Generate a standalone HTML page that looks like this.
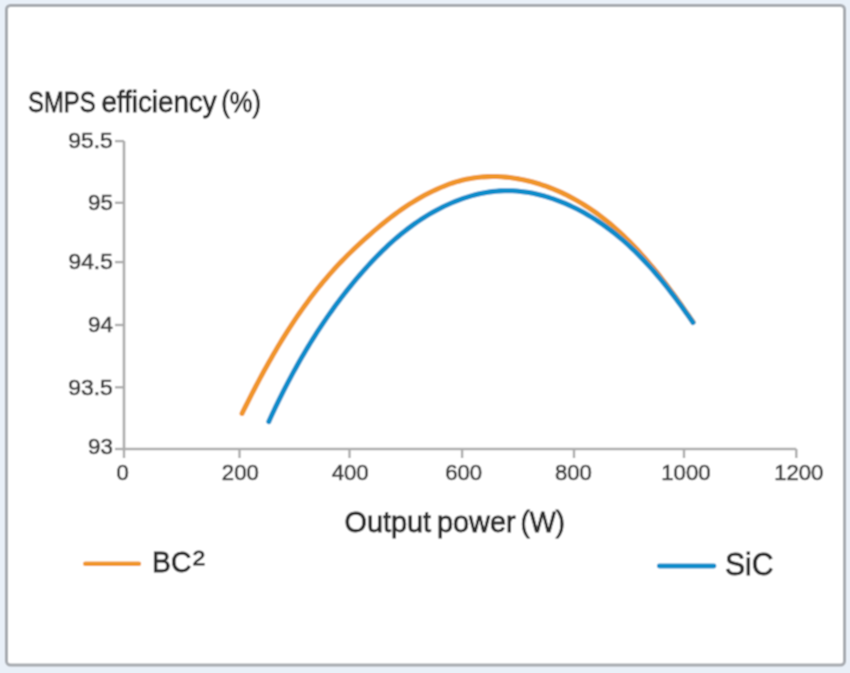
<!DOCTYPE html>
<html><head><meta charset="utf-8"><style>
html,body{margin:0;padding:0;background:#e9f0f8;width:850px;height:673px;overflow:hidden}
svg{display:block}
text{font-family:"Liberation Sans", sans-serif;fill:#2b2b2b;stroke:#2b2b2b;stroke-width:0.8px}
text.tk{fill:#3f3f3f;stroke:#3f3f3f;stroke-width:0.6px}
</style></head><body>
<svg width="850" height="673" viewBox="0 0 850 673">
<defs><filter id="bl" x="-5%" y="-5%" width="110%" height="110%"><feConvolveMatrix order="3" kernelMatrix="1 2 1 2 4 2 1 2 1" divisor="16" edgeMode="none" preserveAlpha="false"/></filter></defs>
<rect width="850" height="673" fill="#e9f0f8"/>
<g filter="url(#bl)">
<rect x="6.5" y="5.5" width="838" height="659.6" rx="4" ry="4" fill="#ffffff" stroke="#a7abb0" stroke-width="3"/>
<path d="M124,141.1 L124,449 L796.3,449" fill="none" stroke="#acacac" stroke-width="2.6"/>
<line x1="124" y1="449" x2="124" y2="458" stroke="#acacac" stroke-width="2.4"/>
<text class="tk" x="122.7" y="480" text-anchor="middle" textLength="12.3" lengthAdjust="spacingAndGlyphs" font-size="21.5">0</text>
<line x1="239.5" y1="449" x2="239.5" y2="458" stroke="#acacac" stroke-width="2.4"/>
<text class="tk" x="240.3" y="480" text-anchor="middle" textLength="36.9" lengthAdjust="spacingAndGlyphs" font-size="21.5">200</text>
<line x1="349.5" y1="449" x2="349.5" y2="458" stroke="#acacac" stroke-width="2.4"/>
<text class="tk" x="350.1" y="480" text-anchor="middle" textLength="36.9" lengthAdjust="spacingAndGlyphs" font-size="21.5">400</text>
<line x1="462.1" y1="449" x2="462.1" y2="458" stroke="#acacac" stroke-width="2.4"/>
<text class="tk" x="463.6" y="480" text-anchor="middle" textLength="36.9" lengthAdjust="spacingAndGlyphs" font-size="21.5">600</text>
<line x1="574" y1="449" x2="574" y2="458" stroke="#acacac" stroke-width="2.4"/>
<text class="tk" x="573.4" y="480" text-anchor="middle" textLength="36.9" lengthAdjust="spacingAndGlyphs" font-size="21.5">800</text>
<line x1="684" y1="449" x2="684" y2="458" stroke="#acacac" stroke-width="2.4"/>
<text class="tk" x="685.9" y="480" text-anchor="middle" textLength="49.2" lengthAdjust="spacingAndGlyphs" font-size="21.5">1000</text>
<line x1="796.3" y1="449" x2="796.3" y2="458" stroke="#acacac" stroke-width="2.4"/>
<text class="tk" x="798.8" y="480" text-anchor="middle" textLength="49.2" lengthAdjust="spacingAndGlyphs" font-size="21.5">1200</text>
<line x1="115" y1="141.1" x2="124" y2="141.1" stroke="#acacac" stroke-width="2.4"/>
<text class="tk" x="112.8" y="148.3" text-anchor="end" textLength="44.5" lengthAdjust="spacingAndGlyphs" font-size="21.5">95.5</text>
<line x1="115" y1="202.8" x2="124" y2="202.8" stroke="#acacac" stroke-width="2.4"/>
<text class="tk" x="112.8" y="210.0" text-anchor="end" textLength="24.8" lengthAdjust="spacingAndGlyphs" font-size="21.5">95</text>
<line x1="115" y1="262.1" x2="124" y2="262.1" stroke="#acacac" stroke-width="2.4"/>
<text class="tk" x="112.8" y="269.3" text-anchor="end" textLength="44.3" lengthAdjust="spacingAndGlyphs" font-size="21.5">94.5</text>
<line x1="115" y1="325" x2="124" y2="325" stroke="#acacac" stroke-width="2.4"/>
<text class="tk" x="112.8" y="332.2" text-anchor="end" textLength="24.8" lengthAdjust="spacingAndGlyphs" font-size="21.5">94</text>
<line x1="115" y1="387.3" x2="124" y2="387.3" stroke="#acacac" stroke-width="2.4"/>
<text class="tk" x="112.8" y="394.5" text-anchor="end" textLength="44.5" lengthAdjust="spacingAndGlyphs" font-size="21.5">93.5</text>
<line x1="115" y1="449" x2="124" y2="449" stroke="#acacac" stroke-width="2.4"/>
<text class="tk" x="112.8" y="453.7" text-anchor="end" textLength="24.8" lengthAdjust="spacingAndGlyphs" font-size="21.5">93</text>
<g>
<path d="M242.09,413.39 L244.04,409.44 L246.01,405.49 L247.99,401.55 L249.99,397.60 L252.01,393.65 L254.04,389.71 L256.10,385.77 L258.17,381.83 L260.27,377.90 L262.38,373.98 L264.52,370.07 L266.68,366.17 L268.86,362.27 L271.07,358.39 L273.30,354.52 L275.55,350.66 L277.83,346.81 L280.13,342.99 L282.46,339.17 L284.82,335.38 L287.20,331.60 L289.61,327.84 L292.05,324.10 L294.52,320.38 L297.02,316.69 L299.55,313.01 L302.11,309.37 L304.70,305.74 L307.32,302.14 L309.98,298.57 L312.66,295.03 L315.39,291.52 L318.14,288.03 L320.93,284.58 L323.76,281.16 L326.62,277.78 L329.52,274.42 L332.46,271.10 L335.43,267.82 L338.45,264.58 L341.50,261.37 L344.59,258.20 L347.72,255.07 L350.88,251.98 L354.08,248.92 L357.30,245.89 L360.55,242.90 L363.83,239.93 L367.12,236.99 L370.44,234.08 L373.77,231.19 L377.13,228.33 L380.51,225.51 L383.92,222.72 L387.37,219.97 L390.86,217.26 L394.40,214.59 L397.98,211.98 L401.62,209.41 L405.30,206.91 L409.04,204.46 L412.83,202.08 L416.67,199.76 L420.56,197.52 L424.49,195.35 L428.48,193.26 L432.51,191.25 L436.60,189.33 L440.72,187.51 L444.89,185.80 L449.10,184.20 L453.34,182.74 L457.62,181.42 L461.91,180.25 L466.23,179.25 L470.57,178.41 L474.92,177.73 L479.29,177.20 L483.67,176.83 L488.05,176.60 L492.44,176.51 L496.84,176.57 L501.23,176.77 L505.62,177.10 L510.00,177.57 L514.38,178.17 L518.74,178.89 L523.09,179.74 L527.42,180.71 L531.74,181.79 L536.02,182.99 L540.29,184.30 L544.52,185.72 L548.73,187.25 L552.90,188.87 L557.03,190.60 L561.12,192.42 L565.18,194.34 L569.18,196.35 L573.14,198.44 L577.05,200.62 L580.90,202.88 L584.70,205.21 L588.45,207.62 L592.14,210.11 L595.78,212.66 L599.36,215.29 L602.90,217.98 L606.39,220.74 L609.83,223.55 L613.22,226.43 L616.56,229.37 L619.86,232.36 L623.11,235.40 L626.33,238.49 L629.49,241.64 L632.62,244.82 L635.71,248.05 L638.76,251.33 L641.76,254.64 L644.74,257.99 L647.67,261.37 L650.57,264.79 L653.44,268.23 L656.27,271.71 L659.07,275.21 L661.84,278.73 L664.58,282.27 L667.29,285.83 L669.97,289.41 L672.62,293.00 L675.25,296.60 L677.85,300.22 L680.43,303.84 L682.98,307.46 L685.52,311.09 L688.03,314.72 L690.52,318.34 L692.99,321.96" fill="none" stroke="#f0952c" stroke-width="5.1" stroke-linecap="round" stroke-linejoin="round"/>
<path d="M268.80,421.60 L270.53,417.81 L272.28,414.01 L274.06,410.23 L275.86,406.44 L277.69,402.66 L279.53,398.88 L281.41,395.11 L283.30,391.34 L285.22,387.58 L287.17,383.83 L289.13,380.09 L291.13,376.36 L293.14,372.63 L295.18,368.92 L297.25,365.21 L299.34,361.52 L301.46,357.84 L303.59,354.17 L305.76,350.52 L307.95,346.88 L310.16,343.26 L312.40,339.65 L314.66,336.06 L316.95,332.48 L319.27,328.92 L321.61,325.39 L323.97,321.87 L326.36,318.37 L328.78,314.89 L331.22,311.43 L333.68,307.99 L336.18,304.58 L338.69,301.19 L341.24,297.83 L343.81,294.48 L346.40,291.17 L349.02,287.88 L351.67,284.61 L354.34,281.38 L357.04,278.17 L359.77,274.99 L362.52,271.84 L365.30,268.72 L368.11,265.63 L370.94,262.58 L373.80,259.55 L376.69,256.56 L379.60,253.60 L382.56,250.69 L385.54,247.81 L388.57,244.97 L391.64,242.17 L394.74,239.42 L397.90,236.71 L401.10,234.04 L404.35,231.43 L407.65,228.87 L411.00,226.36 L414.41,223.90 L417.88,221.50 L421.41,219.15 L424.99,216.87 L428.63,214.65 L432.31,212.51 L436.04,210.44 L439.82,208.45 L443.64,206.54 L447.50,204.72 L451.39,202.99 L455.32,201.36 L459.28,199.82 L463.27,198.39 L467.28,197.07 L471.32,195.86 L475.38,194.77 L479.46,193.79 L483.56,192.94 L487.66,192.22 L491.78,191.64 L495.91,191.19 L500.04,190.88 L504.17,190.71 L508.31,190.69 L512.44,190.81 L516.57,191.06 L520.69,191.44 L524.81,191.95 L528.91,192.59 L533.00,193.35 L537.08,194.23 L541.15,195.23 L545.19,196.33 L549.21,197.55 L553.21,198.87 L557.19,200.29 L561.14,201.81 L565.06,203.43 L568.95,205.14 L572.81,206.94 L576.63,208.83 L580.41,210.79 L584.16,212.84 L587.86,214.96 L591.52,217.15 L595.13,219.41 L598.70,221.74 L602.22,224.13 L605.68,226.58 L609.09,229.09 L612.45,231.65 L615.75,234.26 L619.01,236.92 L622.22,239.63 L625.38,242.39 L628.49,245.20 L631.56,248.05 L634.59,250.95 L637.58,253.88 L640.52,256.86 L643.43,259.88 L646.30,262.93 L649.13,266.02 L651.93,269.14 L654.69,272.30 L657.42,275.48 L660.12,278.70 L662.79,281.94 L665.43,285.21 L668.05,288.51 L670.64,291.83 L673.20,295.17 L675.74,298.53 L678.27,301.91 L680.77,305.30 L683.25,308.72 L685.71,312.14 L688.16,315.58 L690.60,319.03 L693.02,322.49" fill="none" stroke="#118cca" stroke-width="5.1" stroke-linecap="round" stroke-linejoin="round"/>
</g>
<text x="28.0" y="111.6" textLength="67.6" lengthAdjust="spacingAndGlyphs" font-size="28.8">SMPS</text>
<text x="101.4" y="111.6" textLength="115.2" lengthAdjust="spacingAndGlyphs" font-size="28.8">efficiency</text>
<text x="221.2" y="111.6" textLength="39.7" lengthAdjust="spacingAndGlyphs" font-size="28.8">(%)</text>
<text x="344.5" y="531.6" textLength="86.6" lengthAdjust="spacingAndGlyphs" font-size="29">Output</text>
<text x="437.0" y="531.6" textLength="78.6" lengthAdjust="spacingAndGlyphs" font-size="29">power</text>
<text x="520.6" y="531.6" textLength="44.4" lengthAdjust="spacingAndGlyphs" font-size="29">(W)</text>
<line x1="85.3" y1="563.7" x2="138.9" y2="563.7" stroke="#f0952c" stroke-width="4.6" stroke-linecap="round"/>
<text x="152.1" y="572.3" textLength="39.2" lengthAdjust="spacingAndGlyphs" font-size="29">BC</text>
<text x="192.6" y="565" textLength="12.8" lengthAdjust="spacingAndGlyphs" font-size="19.5">2</text>
<line x1="659.3" y1="566.0" x2="714.0" y2="566.0" stroke="#118cca" stroke-width="4.8" stroke-linecap="round"/>
<text x="724.9" y="575.4" textLength="48.6" lengthAdjust="spacingAndGlyphs" font-size="31">SiC</text>
</g>
</svg>
</body></html>
